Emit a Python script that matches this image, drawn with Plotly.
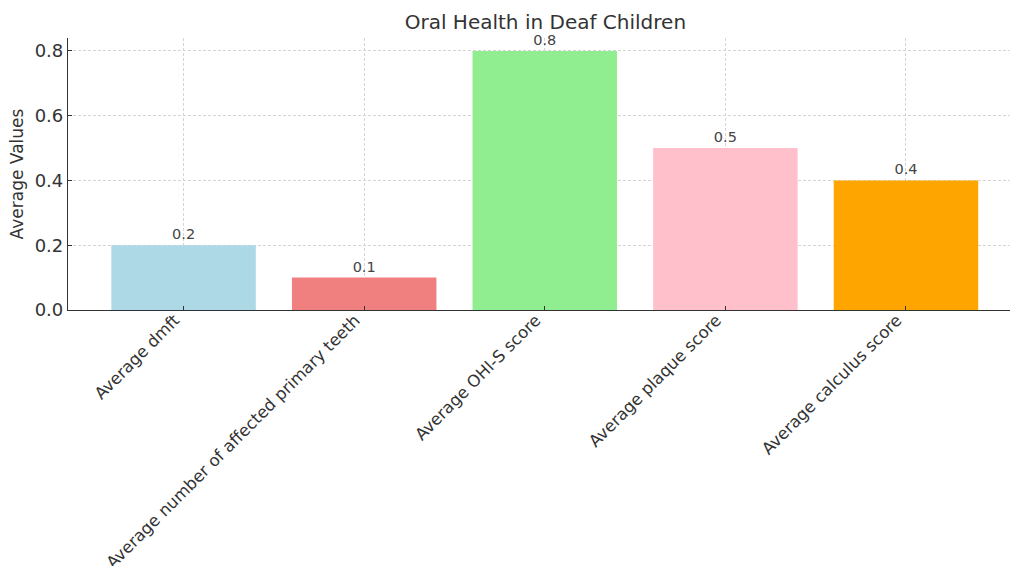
import plotly.graph_objects as go

categories = [
    "Average dmft",
    "Average number of affected primary teeth",
    "Average OHI-S score",
    "Average plaque score",
    "Average calculus score",
]
values = [0.2, 0.1, 0.8, 0.5, 0.4]
colors = ["#ADD8E6", "#F08080", "#90EE90", "#FFC0CB", "#FFA500"]
y_ticks = [0.0, 0.2, 0.4, 0.6, 0.8]

font_family = "DejaVu Sans, Liberation Sans, sans-serif"

fig = go.Figure(
    go.Bar(
        x=list(range(len(categories))),
        y=values,
        marker=dict(color=colors, line=dict(width=0)),
        width=0.8,
        text=[f"{v:.1f}" for v in values],
        textposition="outside",
        textfont=dict(size=14.5, color="#444444", family=font_family),
        cliponaxis=False,
    )
)

fig.update_layout(
    width=1010,
    height=566,
    margin=dict(l=68, r=0, t=38, b=256),
    paper_bgcolor="white",
    plot_bgcolor="white",
    showlegend=False,
    font=dict(family=font_family, color="#333333"),
    title=dict(
        text="Oral Health in Deaf Children",
        x=0.54,
        xanchor="center",
        y=0.962,
        yanchor="middle",
        font=dict(size=20, color="#333333", family=font_family),
    ),
)

fig.update_xaxes(
    range=[-0.64, 4.576],
    tickmode="array",
    tickvals=list(range(len(categories))),
    ticktext=categories,
    tickangle=-45,
    tickfont=dict(size=16.5, color="#333333"),
    ticks="inside",
    ticklen=4,
    tickcolor="#333333",
    ticklabelshift=-9,
    ticklabelstandoff=-7,
    showline=True,
    linecolor="#333333",
    linewidth=1.2,
    showgrid=True,
    gridcolor="#d4d4d4",
    griddash="3px,2px",
    gridwidth=0.8,
    zeroline=False,
    layer="above traces",
    automargin=False,
)

fig.update_yaxes(
    range=[0, 0.84],
    tickmode="array",
    tickvals=y_ticks,
    ticktext=[f"{t:.1f}" for t in y_ticks],
    tickfont=dict(size=18, color="#333333"),
    ticks="inside",
    ticklen=4,
    tickcolor="#333333",
    showline=True,
    linecolor="#333333",
    linewidth=1.2,
    showgrid=True,
    gridcolor="#d4d4d4",
    griddash="3px,2px",
    gridwidth=0.8,
    zeroline=False,
    title=dict(text="Average Values", font=dict(size=17, color="#333333"), standoff=6),
    layer="above traces",
    automargin=False,
)

fig.write_html("out.html")
